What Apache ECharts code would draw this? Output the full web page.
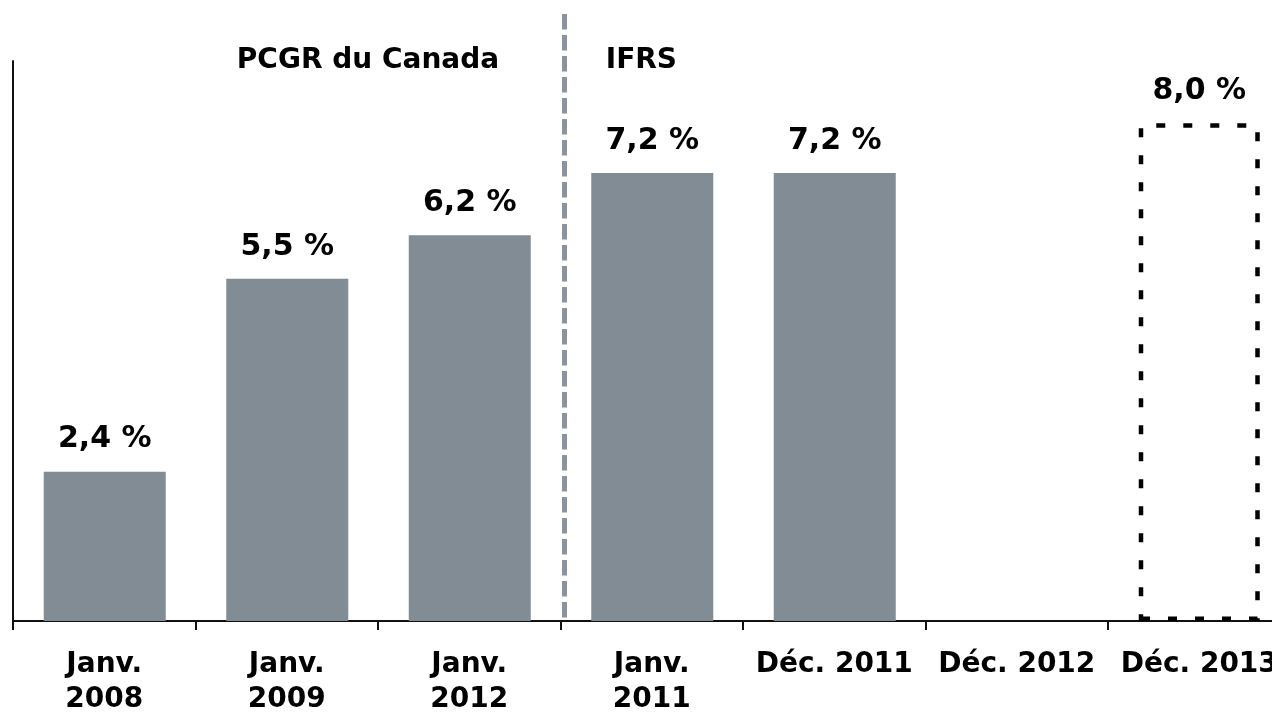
<!DOCTYPE html>
<html>
<head>
<meta charset="utf-8">
<script src="https://cdn.jsdelivr.net/npm/echarts@6/dist/echarts.min.js"></script>
<style>
  html, body { margin: 0; padding: 0; background: #fff; }
  #chart { width: 1272px; height: 713px; }
</style>
</head>
<body>
<div id="chart"></div>
<script>
// Ratio values per reporting date
const categories = ['Janv.\n2008', 'Janv.\n2009', 'Janv.\n2012', 'Janv.\n2011', 'Déc. 2011', 'Déc. 2012', 'Déc. 2013'];
const actualValues = [2.4, 5.5, 6.2, 7.2, 7.2, null, null];
const targetValues = [null, null, null, null, null, null, 8.0];
const groupLabels = ['PCGR du Canada', 'IFRS'];

const FONT = 'DejaVu Sans';
const BAR_COLOR = '#818c95';

function pct(v) {
  return v.toFixed(1).replace('.', ',') + ' %';
}

const labelStyle = {
  show: true,
  position: 'top',
  distance: 17,
  fontFamily: FONT,
  fontWeight: 'bold',
  fontSize: 30,
  color: '#000',
  formatter: p => pct(p.value)
};

const chart = echarts.init(document.getElementById('chart'), null, { renderer: 'canvas' });

chart.setOption({
  animation: false,
  backgroundColor: '#fff',
  grid: { left: 13, top: 61, bottom: 92, right: -18.5, containLabel: false, outerBoundsMode: 'none' },
  xAxis: {
    type: 'category',
    data: categories,
    axisLine: { show: true, lineStyle: { color: '#111', width: 2 } },
    axisTick: { show: true, length: 9, lineStyle: { color: '#111', width: 2 } },
    axisLabel: {
      interval: 0,
      margin: 26,
      fontFamily: FONT,
      fontWeight: 'bold',
      fontSize: 28,
      lineHeight: 35,
      color: '#000'
    }
  },
  yAxis: {
    type: 'value',
    min: 0,
    max: 9,
    interval: 1,
    splitLine: { show: false },
    axisTick: { show: false },
    axisLabel: { show: false },
    axisLine: { show: true, lineStyle: { color: '#111', width: 2 } }
  },
  series: [
    {
      name: 'Ratio',
      type: 'bar',
      data: actualValues,
      barWidth: 122,
      barGap: '-100%',
      itemStyle: { color: BAR_COLOR },
      label: labelStyle
    },
    {
      name: 'Cible',
      type: 'bar',
      data: targetValues,
      barWidth: 121,
      z: 3,
      itemStyle: {
        color: 'rgba(0,0,0,0)',
        borderColor: '#000',
        borderWidth: 4.5,
        borderType: [9, 18]
      },
      label: labelStyle
    }
  ]
});

// Accounting-basis divider and group headings, placed from the category scale
function drawDecorations() {
  const c2 = chart.convertToPixel({ xAxisIndex: 0 }, 2);
  const c3 = chart.convertToPixel({ xAxisIndex: 0 }, 3);
  const c1 = chart.convertToPixel({ xAxisIndex: 0 }, 1);
  const base = chart.convertToPixel({ yAxisIndex: 0 }, 0);
  const divX = (c2 + c3) / 2 + 4;
  chart.setOption({
    graphic: [
      {
        type: 'line',
        shape: { x1: divX, y1: 14, x2: divX, y2: base },
        style: { stroke: '#8a949e', lineWidth: 5, lineDash: [15.5, 5.5] },
        z: 10
      },
      {
        type: 'text',
        x: (c1 + c2) / 2 - 10,
        y: 61,
        style: {
          text: groupLabels[0],
          fontFamily: FONT, fontWeight: 'bold', fontSize: 28,
          fill: '#000', align: 'center', verticalAlign: 'middle'
        }
      },
      {
        type: 'text',
        x: c3 - 46,
        y: 61,
        style: {
          text: groupLabels[1],
          fontFamily: FONT, fontWeight: 'bold', fontSize: 28,
          fill: '#000', align: 'left', verticalAlign: 'middle'
        }
      }
    ]
  });
}
drawDecorations();
</script>
</body>
</html>
